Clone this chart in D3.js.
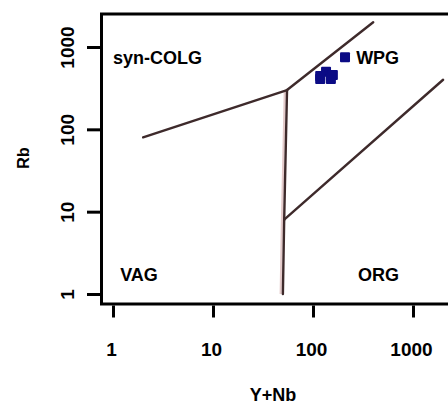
<!DOCTYPE html>
<html>
<head>
<meta charset="utf-8">
<script src="https://cdn.jsdelivr.net/npm/d3@7"></script>
<style>
  html, body { margin: 0; padding: 0; background: #fff; }
  svg { display: block; }
  text { font-family: "Liberation Sans", Arial, sans-serif; font-weight: bold; fill: #000; }
</style>
</head>
<body>
<svg id="chart" width="448" height="405"></svg>
<script>
// Pearce et al. (1984) Rb vs (Y+Nb) granite discrimination diagram

// Sample analyses (ppm)
const sampleYNb = [135, 118, 158, 118, 151, 209];
const sampleRb  = [500, 445, 458, 410, 410, 750];

// Field boundaries, each as a pair of (Y+Nb, Rb) end points
const boundaryNames = ["VAG/syn-COLG", "syn-COLG/WPG", "VAG-WPG upper", "VAG-ORG lower", "WPG/ORG"];
const boundaryX = [[2, 55], [55, 400], [55, 51.5], [51.5, 50], [51.5, 2000]];
const boundaryY = [[80, 300], [300, 2000], [300, 8], [8, 1], [8, 400]];

// Field labels with their anchor positions (Y+Nb, Rb)
const fieldNames = ["syn-COLG", "WPG", "VAG", "ORG"];
const fieldX = [1, 270, 1.18, 282];
const fieldY = [620, 620, 1.44, 1.44];

// Axis ticks
const xTickValues = [1, 10, 100, 1000];
const yTickValues = [1, 10, 100, 1000];
const xTitle = "Y+Nb";
const yTitle = "Rb";

const svg = d3.select("#chart");

const x = d3.scaleLog().domain([1, 1000]).range([113, 413]);
const y = d3.scaleLog().domain([1, 1000]).range([294, 47]);

// plotting region (log axes padded beyond the decade range)
const xLo = x.invert(101.5), xHi = x.invert(470);
const yLo = y.invert(304), yHi = y.invert(14);

// boundary lines
const lineGen = d3.line().x(d => x(d[0])).y(d => y(d[1]));
const bounds = boundaryX.map((bx, i) => ({ name: boundaryNames[i], pts: bx.map((v, j) => [v, boundaryY[i][j]]) }));

// faint halo along the vertical boundary
svg.append("path")
  .attr("d", lineGen([[55, 300], [51.5, 8], [50, 1]]))
  .attr("transform", "translate(-2.2,0)")
  .attr("fill", "none")
  .attr("stroke", "#e4caca")
  .attr("stroke-width", 2.2);

svg.selectAll("path.bound")
  .data(bounds)
  .join("path")
  .attr("class", "bound")
  .attr("d", d => lineGen(d.pts))
  .attr("fill", "none")
  .attr("stroke", "#3e2a2b")
  .attr("stroke-width", 2.4)
  .attr("stroke-linecap", "round");

// sample points
const pts = sampleYNb.map((v, i) => [v, sampleRb[i]]);
svg.selectAll("rect.pt")
  .data(pts)
  .join("rect")
  .attr("class", "pt")
  .attr("x", d => x(d[0]) - 5)
  .attr("y", d => y(d[1]) - 5)
  .attr("width", 10)
  .attr("height", 10)
  .attr("rx", 1)
  .attr("fill", "#0b0b85");

// frame
svg.append("rect")
  .attr("x", x(xLo))
  .attr("y", y(yHi))
  .attr("width", x(xHi) - x(xLo))
  .attr("height", y(yLo) - y(yHi))
  .attr("fill", "none")
  .attr("stroke", "#000")
  .attr("stroke-width", 3);

// x axis
const xAxis = d3.axisBottom(x)
  .tickValues(xTickValues)
  .tickFormat(d3.format("d"))
  .tickSize(12)
  .tickPadding(22);
const gx = svg.append("g").attr("transform", `translate(0,${y(yLo) + 1.5})`).call(xAxis);
gx.select(".domain").remove();
gx.selectAll(".tick line").attr("stroke", "#000").attr("stroke-width", 3);
gx.selectAll(".tick text")
  .attr("font-size", 19)
  .attr("dx", -2)
  .attr("y", 0)
  .attr("dy", 0)
  .attr("transform", "translate(0,50)")
  .style("font-family", "'Liberation Sans', Arial, sans-serif");

// y axis
const yAxis = d3.axisLeft(y)
  .tickValues(yTickValues)
  .tickFormat(d3.format("d"))
  .tickSize(13);
const gy = svg.append("g").attr("transform", `translate(${x(xLo) - 1.5},0)`).call(yAxis);
gy.select(".domain").remove();
gy.selectAll(".tick line").attr("stroke", "#000").attr("stroke-width", 3);
gy.selectAll(".tick text")
  .attr("font-size", 19)
  .attr("x", null)
  .attr("dy", null)
  .attr("text-anchor", "middle")
  .attr("transform", "translate(-26,0) rotate(-90)")
  .style("font-family", "'Liberation Sans', Arial, sans-serif");

// field labels
svg.selectAll("text.field")
  .data(fieldNames)
  .join("text")
  .attr("class", "field")
  .attr("x", (d, i) => x(fieldX[i]))
  .attr("y", (d, i) => y(fieldY[i]))
  .attr("font-size", 18)
  .text(d => d);

// axis titles
svg.append("text")
  .attr("x", 273)
  .attr("y", 401)
  .attr("text-anchor", "middle")
  .attr("font-size", 18)
  .text(xTitle);

svg.append("text")
  .attr("transform", "translate(29,158) rotate(-90)")
  .attr("text-anchor", "middle")
  .attr("font-size", 16)
  .text(yTitle);
</script>
</body>
</html>
